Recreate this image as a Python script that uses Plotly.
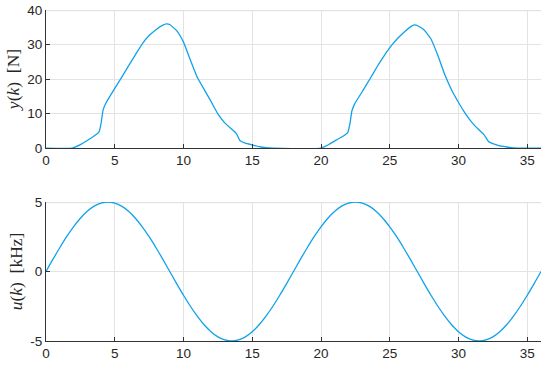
import plotly.graph_objects as go

# force y(k) [N], two pulses
k_force = [0, 1.9, 2.5, 3.0, 3.5, 3.85, 4.0, 4.15, 4.35, 5.0, 5.5, 6.0, 6.5, 7.0,
           7.5, 8.0, 8.5, 8.75, 9.0, 9.5, 10.0, 10.5, 11.0, 11.5, 12.0, 12.5,
           13.0, 13.5, 13.85, 14.1, 14.5, 15.0, 15.5, 16.0, 16.5,
           20.0, 20.6, 21.1, 21.6, 21.95, 22.1, 22.25, 22.45, 23.1, 23.6, 24.1,
           24.6, 25.1, 25.6, 26.1, 26.5, 26.8, 27.1, 27.5, 28.0, 28.5, 29.0,
           29.5, 30.0, 30.5, 31.0, 31.5, 31.85, 32.2, 32.6, 33.0, 33.5, 34.0,
           34.5, 36.0]
y_force = [0, 0, 1.0, 2.2, 3.5, 4.6, 7.0, 11.0, 13.0, 17.3, 20.5, 23.8, 27.0, 30.2,
           32.6, 34.3, 35.6, 36.0, 35.8, 34.0, 30.7, 25.5, 20.5, 17.0, 13.5, 9.9,
           7.3, 5.5, 4.2, 2.2, 1.4, 0.9, 0.4, 0.1, 0,
           0, 1.1, 2.3, 3.4, 4.5, 7.0, 10.8, 12.8, 17.0, 20.3, 23.7,
           26.8, 29.6, 31.9, 33.8, 35.1, 35.7, 35.3, 34.2, 31.6, 26.8, 21.3,
           16.8, 13.2, 10.0, 7.3, 5.2, 3.9, 1.8, 1.1, 0.6, 0.3, 0.05,
           0, 0]

# input u(k) [kHz], sampled every 0.5
k_input = [i * 0.5 for i in range(73)]
u_input = [0, 0.87, 1.71, 2.5, 3.21, 3.83, 4.33, 4.70, 4.92, 5.0,
           4.92, 4.70, 4.33, 3.83, 3.21, 2.5, 1.71, 0.87,
           0, -0.87, -1.71, -2.5, -3.21, -3.83, -4.33, -4.70, -4.92, -5.0,
           -4.92, -4.70, -4.33, -3.83, -3.21, -2.5, -1.71, -0.87,
           0, 0.87, 1.71, 2.5, 3.21, 3.83, 4.33, 4.70, 4.92, 5.0,
           4.92, 4.70, 4.33, 3.83, 3.21, 2.5, 1.71, 0.87,
           0, -0.87, -1.71, -2.5, -3.21, -3.83, -4.33, -4.70, -4.92, -5.0,
           -4.92, -4.70, -4.33, -3.83, -3.21, -2.5, -1.71, -0.87, 0]

x_ticks = [0, 5, 10, 15, 20, 25, 30, 35]

blue = "#0FA2EC"
grid = "#e3e3e3"
fig = go.Figure()
fig.add_trace(go.Scatter(x=k_force, y=y_force, mode="lines", line_shape="spline",
                         line=dict(color=blue, width=1.3, smoothing=0.4),
                         xaxis="x", yaxis="y"))
fig.add_trace(go.Scatter(x=k_input, y=u_input, mode="lines", line_shape="spline",
                         line=dict(color=blue, width=1.3), xaxis="x2", yaxis="y2"))

axis_style = dict(showline=True, linecolor="#333333", linewidth=1, ticks="inside",
                  ticklen=4, tickcolor="#333333", showgrid=True, gridcolor=grid,
                  zeroline=False, mirror=False, automargin=False,
                  tickfont=dict(family="Liberation Sans", size=13.5, color="#262626"))
title_font = dict(family="Liberation Serif", size=17.5, color="#262626")

fig.update_layout(
    width=550, height=366, showlegend=False,
    paper_bgcolor="white", plot_bgcolor="white",
    margin=dict(l=46, r=9, t=10, b=25),
    xaxis=dict(domain=[0, 1], anchor="y", range=[0, 36], tickvals=x_ticks, **axis_style),
    yaxis=dict(domain=[0.583, 1], anchor="x", range=[0, 40], tickvals=[0, 10, 20, 30, 40],
               title=dict(text="<i>y</i>(<i>k</i>)  [N]", font=title_font, standoff=3),
               **axis_style),
    xaxis2=dict(domain=[0, 1], anchor="y2", range=[0, 36], tickvals=x_ticks, **axis_style),
    yaxis2=dict(domain=[0, 0.42], anchor="x2", range=[-5, 5], tickvals=[-5, 0, 5],
                ticktext=["-5", "0", "5"],
                title=dict(text="<i>u</i>(<i>k</i>)  [kHz]", font=title_font, standoff=3),
                **axis_style),
)

# grid lines on the top edge of each panel (nudged inside so they are not clipped)
fig.add_shape(type="line", xref="x domain", yref="y domain", x0=0, x1=1,
              y0=0.996, y1=0.996, line=dict(color=grid, width=1.2), layer="below")
fig.add_shape(type="line", xref="x2 domain", yref="y2 domain", x0=0, x1=1,
              y0=0.996, y1=0.996, line=dict(color=grid, width=1.2), layer="below")

fig.write_html("out.html", config={"displayModeBar": False},
               post_script="document.body.style.margin='0';")
